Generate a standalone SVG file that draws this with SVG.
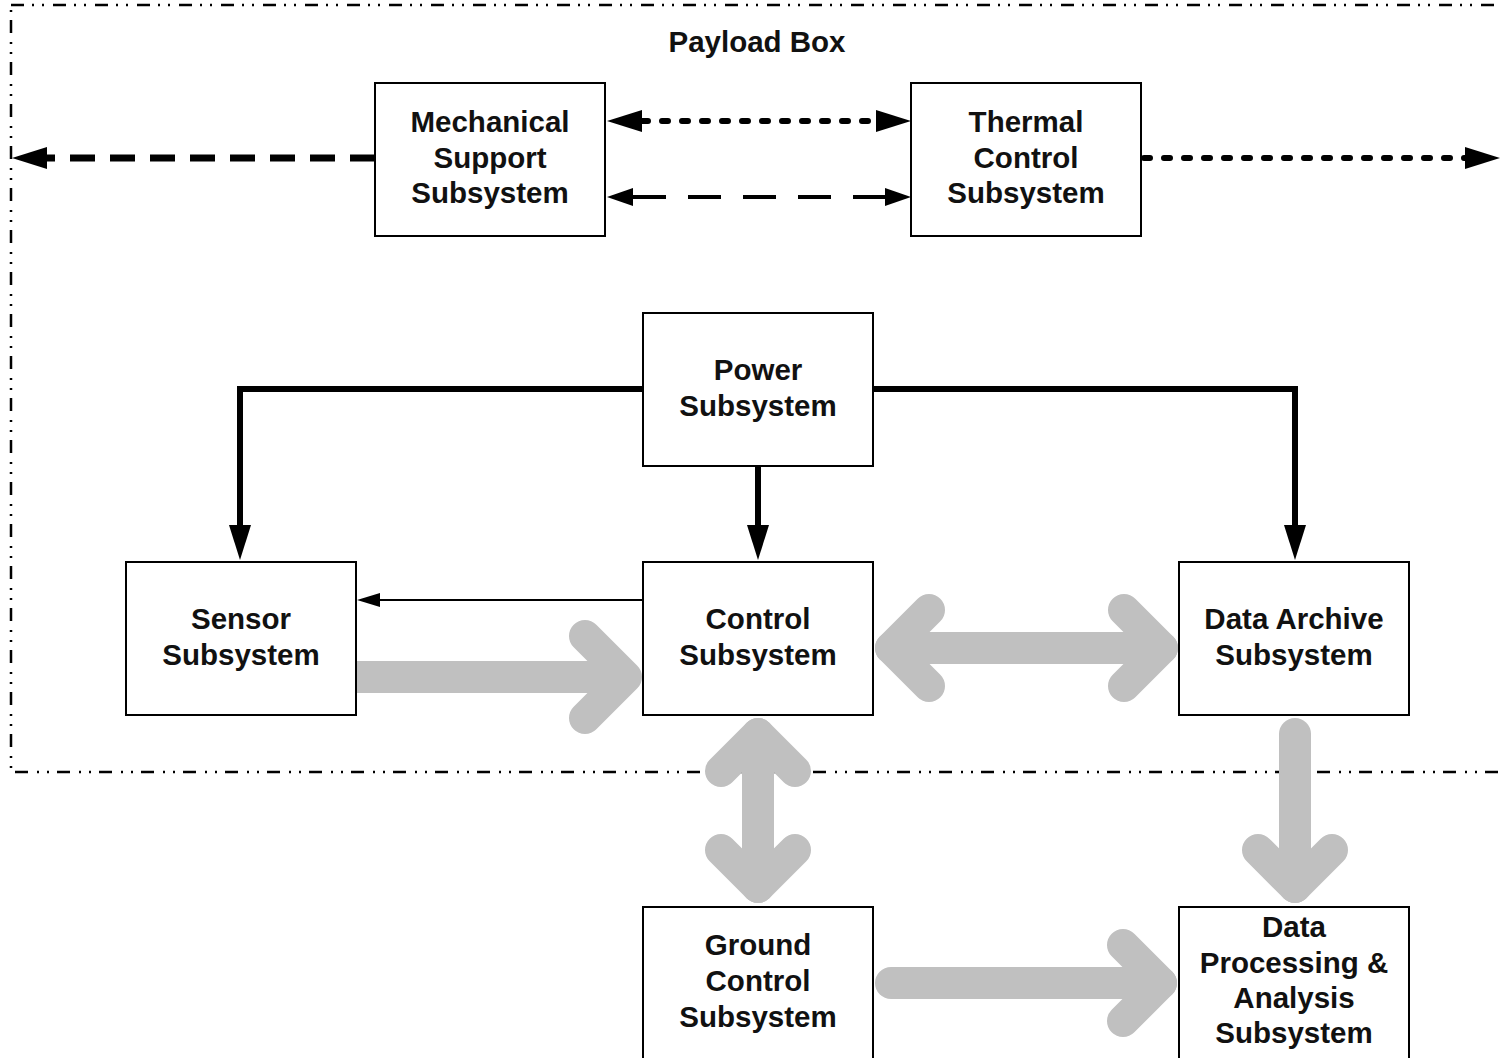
<svg xmlns="http://www.w3.org/2000/svg" width="1501" height="1058" viewBox="0 0 1501 1058">
<style>
.box{fill:#fff;stroke:#000;stroke-width:2}
.lbl{font-family:"Liberation Sans",Arial,sans-serif;font-weight:bold;font-size:29.5px;fill:#111;text-anchor:middle}
.frame{fill:none;stroke:#000;stroke-width:2.5;stroke-dasharray:13 8 2 8 2 9}
.thick{fill:none;stroke:#000;stroke-width:6;stroke-linejoin:miter}
.dash{fill:none;stroke:#000;stroke-width:7;stroke-dasharray:25 15}
.dot{fill:none;stroke:#000;stroke-width:6;stroke-linecap:round;stroke-dasharray:6 14}
.mdash{fill:none;stroke:#000;stroke-width:4;stroke-dasharray:33 22}
.thin{fill:none;stroke:#000;stroke-width:2}
.g{fill:none;stroke:#c0c0c0;stroke-width:32;stroke-linecap:round;stroke-linejoin:round}
.gb{fill:none;stroke:#c0c0c0;stroke-width:32;stroke-linecap:butt}
</style>
<defs>
<marker id="big" markerUnits="userSpaceOnUse" viewBox="0 -12 36 24" markerWidth="36" markerHeight="24" refX="0" refY="0" orient="auto-start-reverse"><path d="M0,-11 L35,0 L0,11 z" fill="#000"/></marker>
<marker id="mid" markerUnits="userSpaceOnUse" viewBox="0 -10 27 20" markerWidth="27" markerHeight="20" refX="0" refY="0" orient="auto-start-reverse"><path d="M0,-9 L26,0 L0,9 z" fill="#000"/></marker>
<marker id="small" markerUnits="userSpaceOnUse" viewBox="0 -8 24 16" markerWidth="24" markerHeight="16" refX="0" refY="0" orient="auto-start-reverse"><path d="M0,-7 L23,0 L0,7 z" fill="#000"/></marker>
</defs>
<rect width="1501" height="1058" fill="#fff"/>
<g id="payload-box">
<rect class="frame" x="11" y="5" width="1494" height="767"/>
<text class="lbl" x="757" y="52">Payload Box</text>
</g>
<g id="mechanical"><rect class="box" x="375" y="83" width="230" height="153"/>
<text class="lbl" x="490" y="132">Mechanical</text><text class="lbl" x="490" y="168">Support</text><text class="lbl" x="490" y="203">Subsystem</text></g>
<g id="thermal"><rect class="box" x="911" y="83" width="230" height="153"/>
<text class="lbl" x="1026" y="132">Thermal</text><text class="lbl" x="1026" y="168">Control</text><text class="lbl" x="1026" y="203">Subsystem</text></g>
<g id="power"><rect class="box" x="643" y="313" width="230" height="153"/>
<text class="lbl" x="758" y="380">Power</text><text class="lbl" x="758" y="416">Subsystem</text></g>
<g id="sensor"><rect class="box" x="126" y="562" width="230" height="153"/>
<text class="lbl" x="241" y="629">Sensor</text><text class="lbl" x="241" y="665">Subsystem</text></g>
<g id="control"><rect class="box" x="643" y="562" width="230" height="153"/>
<text class="lbl" x="758" y="629">Control</text><text class="lbl" x="758" y="665">Subsystem</text></g>
<g id="archive"><rect class="box" x="1179" y="562" width="230" height="153"/>
<text class="lbl" x="1294" y="629">Data Archive</text><text class="lbl" x="1294" y="665">Subsystem</text></g>
<g id="ground"><rect class="box" x="643" y="907" width="230" height="160"/>
<text class="lbl" x="758" y="955">Ground</text><text class="lbl" x="758" y="991">Control</text><text class="lbl" x="758" y="1027">Subsystem</text></g>
<g id="processing"><rect class="box" x="1179" y="907" width="230" height="160"/>
<text class="lbl" x="1294" y="937">Data</text><text class="lbl" x="1294" y="973">Processing &amp;</text><text class="lbl" x="1294" y="1008">Analysis</text><text class="lbl" x="1294" y="1043">Subsystem</text></g>
<g id="connectors">
<line class="dash" x1="375" y1="158" x2="47" y2="158" marker-end="url(#big)"/>
<line class="dot" x1="642" y1="121" x2="876" y2="121" marker-start="url(#big)" marker-end="url(#big)"/>
<line class="mdash" x1="633" y1="197" x2="885" y2="197" marker-start="url(#mid)" marker-end="url(#mid)"/>
<line class="dot" x1="1144" y1="158" x2="1465" y2="158" marker-end="url(#big)"/>
<polyline class="thick" points="643,389 240,389 240,525" marker-end="url(#big)"/>
<line class="thick" x1="758" y1="466" x2="758" y2="525" marker-end="url(#big)"/>
<polyline class="thick" points="873,389 1295,389 1295,525" marker-end="url(#big)"/>
<line class="thin" x1="643" y1="600" x2="380" y2="600" marker-end="url(#small)"/>
<line class="gb" x1="357" y1="677" x2="626" y2="677"/>
<polyline class="g" points="585,636 626,677 585,718"/>
<line class="g" x1="891" y1="648" x2="1162" y2="648"/>
<polyline class="g" points="929,610 891,648 929,686"/>
<polyline class="g" points="1124,610 1162,648 1124,686"/>
<line class="g" x1="758" y1="734" x2="758" y2="887"/>
<polyline class="g" points="721,771 758,734 795,771"/>
<polyline class="g" points="721,850 758,887 795,850"/>
<line class="g" x1="1295" y1="734" x2="1295" y2="887"/>
<polyline class="g" points="1258,850 1295,887 1332,850"/>
<line class="g" x1="891" y1="983" x2="1161" y2="983"/>
<polyline class="g" points="1123,945 1161,983 1123,1021"/>
</g>
</svg>
